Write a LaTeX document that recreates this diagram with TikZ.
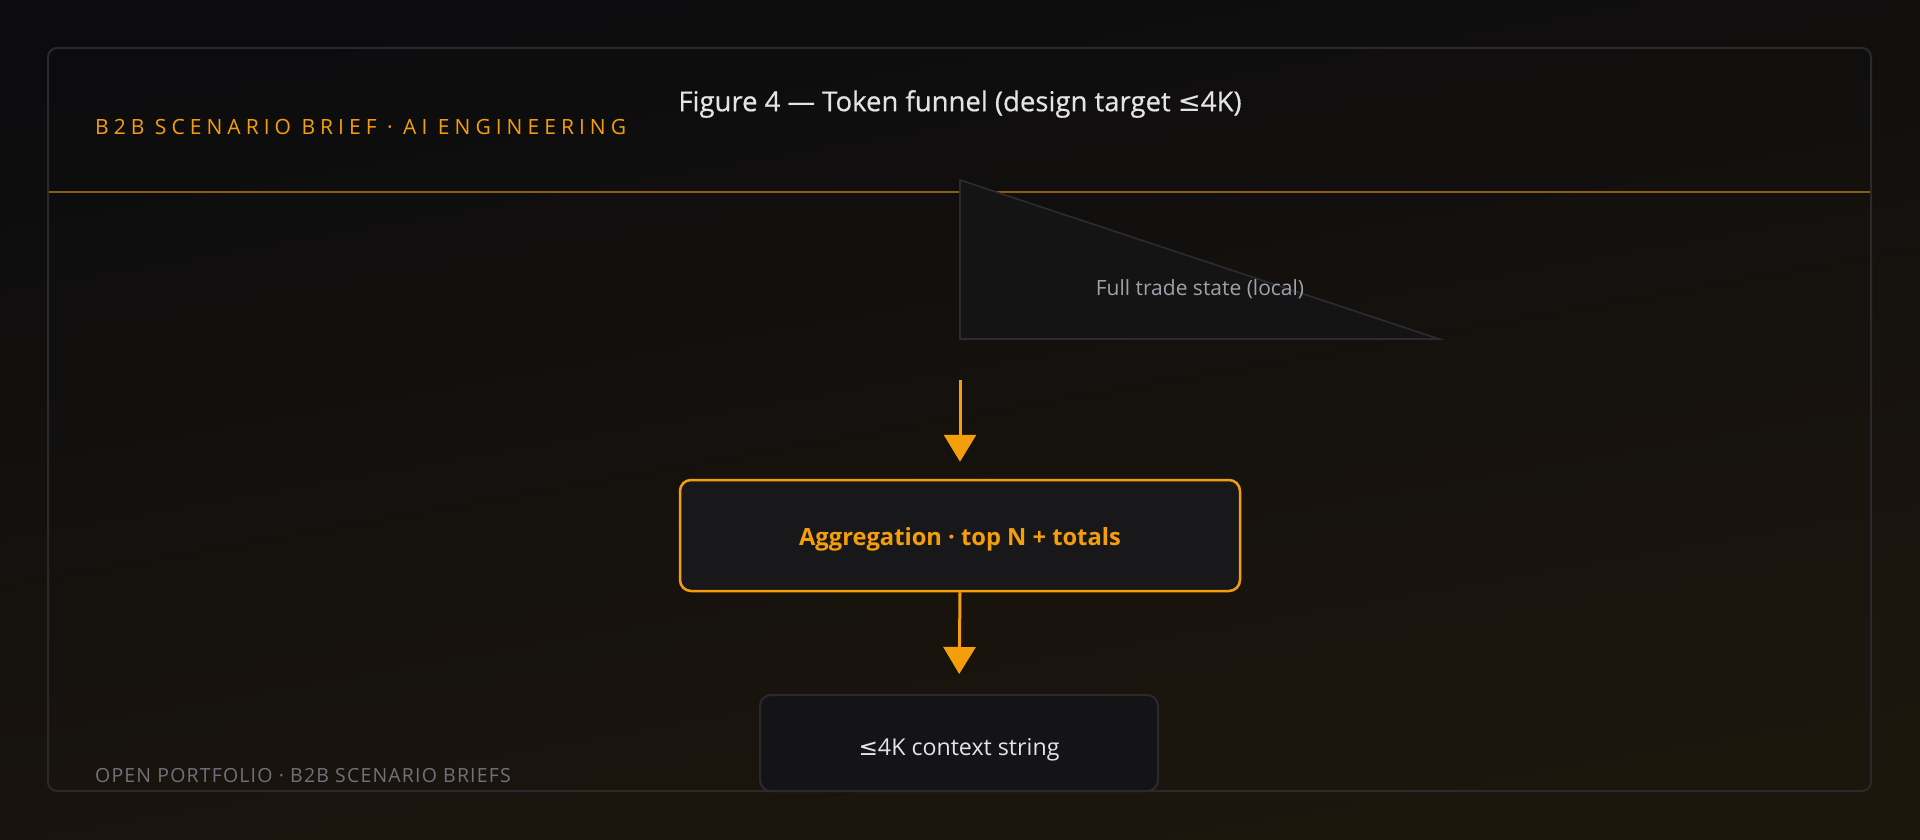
\documentclass[tikz,border=0pt]{standalone}
\usepackage{fontspec}
\setmainfont{Open Sans}
\newfontfamily\hdrfont[LetterSpace=24]{Open Sans}
\newfontfamily\ftrfont[LetterSpace=6]{Open Sans}
\newfontfamily\titlefont[FakeBold=0.5]{Open Sans}
\newfontfamily\symfont{DejaVu Sans}
\newcommand{\lesym}{{\symfont ≤}}
\usetikzlibrary{arrows.meta}
\definecolor{bgtop}{HTML}{0C0C0E}
\definecolor{bgbot}{HTML}{1D160D}
\definecolor{framec}{HTML}{2A2A2D}
\definecolor{accent}{HTML}{F59E0B}
\definecolor{accentdim}{RGB}{140,92,16}
\definecolor{titlec}{HTML}{E4E4E7}
\definecolor{trifill}{HTML}{141415}
\definecolor{tristroke}{HTML}{2C2C30}
\definecolor{tritextc}{HTML}{A1A1AA}
\definecolor{aggfill}{HTML}{18181B}
\definecolor{ctxfill}{HTML}{141416}
\definecolor{ctxstroke}{HTML}{2A2A2E}
\definecolor{ftrc}{HTML}{71717A}
\tikzset{
  framebox/.style={draw=framec, line width=2pt, rounded corners=9pt},
  hdrline/.style={draw=accentdim, line width=1.6pt},
  trishape/.style={draw=tristroke, fill=trifill, line width=1.6pt},
  tritext/.style={text=tritextc, font=\fontsize{21}{25}\selectfont},
  aggbox/.style={draw=accent, fill=aggfill, line width=2.5pt, rounded corners=11pt,
    minimum width=560pt, minimum height=111pt, text=accent,
    font=\bfseries\fontsize{23.7}{28}\selectfont},
  ctxbox/.style={draw=ctxstroke, fill=ctxfill, line width=2pt, rounded corners=11pt,
    minimum width=398pt, minimum height=96pt, text=titlec,
    font=\fontsize{23.2}{27}\selectfont},
  flow/.style={draw=accent, line width=3pt, -{Triangle[width=32pt,length=27pt]}},
  hdrtext/.style={text=accent, anchor=west, inner sep=0pt, font=\hdrfont\fontsize{21}{25}\selectfont},
  titletext/.style={text=titlec, inner sep=0pt, font=\titlefont\fontsize{27.5}{31}\selectfont},
  ftrtext/.style={text=ftrc, anchor=west, inner sep=0pt, font=\ftrfont\fontsize{19.5}{23}\selectfont}
}
\begin{document}
\begin{tikzpicture}[x=1pt,y=-1pt]
\useasboundingbox (0,0) rectangle (1920,840);
\shade[top color=bgtop, bottom color=bgbot, shading angle=10] (0,0) rectangle (1920,840);
\draw[framebox] (48,48) rectangle (1871,791);
\draw[hdrline] (49,192) -- (1870,192);
\node[hdrtext] (hdr) at (95,127) {B2B SCENARIO BRIEF · AI ENGINEERING};
\node[titletext] (title) at (960,104) {Figure 4 — Token funnel (design target \lesym4K)};
\draw[trishape] (960,180) -- (960,339) -- (1439,339) -- cycle;
\node[tritext] (tri) at (1200,289) {Full trade state (local)};
\coordinate (a1) at (960,380);
\node[aggbox] (agg) at (960,535.5) {\raisebox{-4pt}[\height][\depth]{Aggregation · top N + totals}};
\node[ctxbox] (ctx) at (959,743) {\raisebox{-7pt}[\height][\depth]{\lesym4K context string}};
\draw[flow, shorten >=17pt] (a1) -- (agg.north);
\draw[flow, shorten >=20pt] (agg.south) -- (ctx.north);
\node[ftrtext] (ftr) at (95,776) {OPEN PORTFOLIO · B2B SCENARIO BRIEFS};
\end{tikzpicture}
\end{document}
